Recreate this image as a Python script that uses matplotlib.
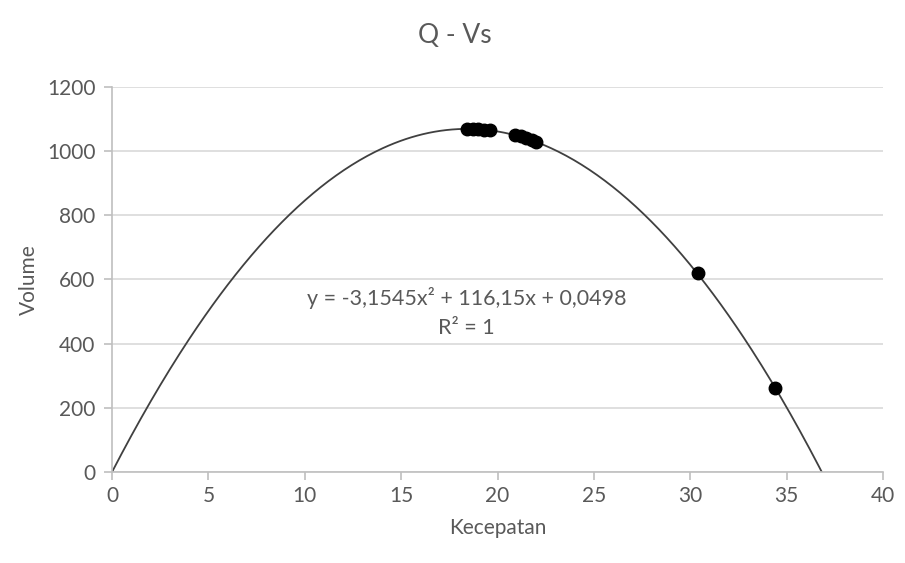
import matplotlib.pyplot as plt
import numpy as np

# observed points (Kecepatan, Volume)
kecepatan = [18.4, 18.7, 19.0, 19.3, 19.6, 20.9, 21.2, 21.5, 21.8, 22.0, 30.4, 34.4]
volume = [1069, 1069, 1068, 1067, 1065, 1050, 1046, 1041, 1036, 1029, 620, 263]

# trendline coefficients from the chart label
coef = [-3.1545, 116.15, 0.0498]
x_ticks = [0, 5, 10, 15, 20, 25, 30, 35, 40]
y_ticks = [0, 200, 400, 600, 800, 1000, 1200]

plt.rcParams['font.family'] = ['Lato', 'DejaVu Sans']
grey = '#595959'

fig = plt.figure(figsize=(9.05, 5.63), dpi=100)
ax = fig.add_axes([0.1238, 0.1616, 0.852, 0.684])

# trendline
xs = np.linspace(0, 40, 400)
ys = np.polyval(coef, xs)
ax.plot(xs, ys, color='#404040', lw=1.3, zorder=2)

ax.plot(kecepatan, volume, 'o', color='black', markersize=9, zorder=3)

ax.set_xlim(0, 40)
ax.set_ylim(0, 1200)
ax.set_xticks(x_ticks)
ax.set_yticks(y_ticks)
ax.grid(axis='y', color='#d9d9d9', lw=1.2)
ax.set_axisbelow(True)

for s in ['top', 'right']:
    ax.spines[s].set_visible(False)
for s in ['left', 'bottom']:
    ax.spines[s].set_color('#bfbfbf')
    ax.spines[s].set_linewidth(1.2)
ax.tick_params(colors='#bfbfbf', labelcolor=grey, labelsize=15, length=6, width=1.2)
ax.tick_params(axis='x', pad=4)
ax.tick_params(axis='y', pad=6)

ax.set_xlabel('Kecepatan', color=grey, fontsize=15, labelpad=9)
ax.set_ylabel('Volume', color=grey, fontsize=15, labelpad=6)
fig.text(0.503, 0.937, 'Q - Vs', ha='center', va='center', color=grey, fontsize=19)

ax.text(18.4, 542, 'y = -3,1545x² + 116,15x + 0,0498', ha='center', va='center',
        color=grey, fontsize=15.5)
ax.text(18.4, 448, 'R² = 1', ha='center', va='center', color=grey, fontsize=15.5)

fig.savefig('out.png', dpi=100)
